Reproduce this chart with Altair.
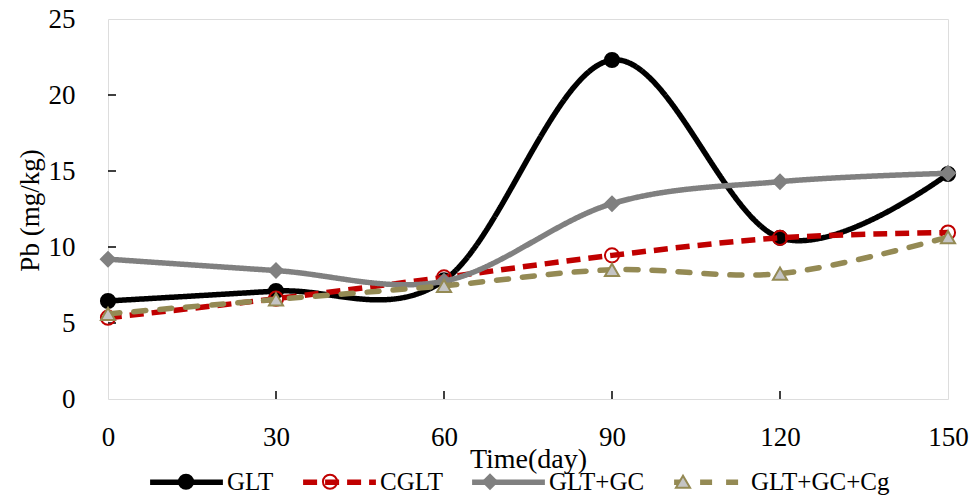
import altair as alt
import pandas as pd

# ---- data ----
days = [0, 30, 60, 90, 120, 150]
series_names = ["GLT", "CGLT", "GLT+GC", "GLT+GC+Cg"]
glt = [6.45, 7.1, 7.8, 22.3, 10.6, 14.8]
cglt = [5.35, 6.6, 8.0, 9.45, 10.6, 10.95]
glt_gc = [9.2, 8.45, 7.75, 12.85, 14.3, 14.85]
glt_gc_cg = [5.6, 6.55, 7.45, 8.5, 8.25, 10.65]
y_ticks = [0, 5, 10, 15, 20, 25]
x_ticks = [0, 30, 60, 90, 120, 150]

values = {"GLT": glt, "CGLT": cglt, "GLT+GC": glt_gc, "GLT+GC+Cg": glt_gc_cg}
# marker legend uses a keyed copy of the names so it stays a separate legend
marker_keys = [s + "#" for s in series_names]
rows = []
for s, k in zip(series_names, marker_keys):
    for d, v in zip(days, values[s]):
        rows.append({"day": d, "value": v, "series": s, "s2": k})
df = pd.DataFrame(rows)

# ---- styles ----
FONT = "Liberation Serif"
colors = ["#000000", "#C00000", "#808080", "#948A54"]
dashes = [[1, 0], [14, 8], [1, 0], [12, 14]]
caps = ["butt", "butt", "butt", "round"]
shapes = ["circle", "circle", "diamond", "triangle-up"]
fills = ["#000000", "transparent", "#808080", "#c4c4c4"]
strokes = ["#000000", "#C00000", "#808080", "#948A54"]
LW = 5.5
MSIZE = 200

W, H = 840, 380

x_scale = alt.Scale(domain=[0, 150], nice=False, zero=False)
y_scale = alt.Scale(domain=[0, 25], nice=False)

x_axis = alt.Axis(values=x_ticks, title="Time(day)", grid=False, domain=False,
                  ticks=False, tickSize=0, labelPadding=25, labelFont=FONT,
                  labelFontSize=27, labelColor="black", titleFont=FONT,
                  titleFontSize=28, titleFontWeight="normal", titleColor="black",
                  titleY=68, titleBaseline="alphabetic", labelFlush=False)
y_axis = alt.Axis(values=y_ticks, title="Pb (mg/kg)", grid=False, domain=False,
                  ticks=False, tickSize=0, labelPadding=33, labelFont=FONT,
                  labelFontSize=27, labelColor="black", titleFont=FONT,
                  titleFontSize=27, titleFontWeight="normal", titleColor="black",
                  titleAngle=270, titleX=-70, titleY=191, titleAlign="center",
                  titleBaseline="alphabetic", labelFlush=False)

LEG_X, LEG_Y = 39, 450
COLPAD = 18
line_legend = alt.Legend(orient="none", legendX=LEG_X, legendY=LEG_Y - 26.5,
                         direction="horizontal",
                         title=None, symbolType="stroke", symbolSize=5300,
                         symbolStrokeWidth=LW, labelFont=FONT, labelFontSize=25,
                         labelColor="black", labelOffset=1, columnPadding=COLPAD,
                         padding=0, symbolLimit=0)
pt_legend = alt.Legend(orient="none", legendX=LEG_X, legendY=LEG_Y, direction="horizontal",
                       title=None, symbolSize=MSIZE, symbolStrokeWidth=2,
                       labelFont=FONT, labelFontSize=25, labelColor="black",
                       labelOpacity=0, labelOffset=27.5, symbolOffset=26.5,
                       labelExpr="slice(datum.label, 0, -1)",
                       columnPadding=COLPAD, padding=0, symbolLimit=0)

color_scale = alt.Scale(domain=series_names, range=colors)
dash_scale = alt.Scale(domain=series_names, range=dashes)
shape_scale = alt.Scale(domain=marker_keys, range=shapes)
fill_scale = alt.Scale(domain=marker_keys, range=fills)
stroke_scale = alt.Scale(domain=marker_keys, range=strokes)

base = alt.Chart(df)
layers = []
for i, s in enumerate(series_names):
    line = base.transform_filter(alt.datum.series == s).mark_line(
        interpolate="cardinal", tension=0, strokeWidth=LW, strokeCap=caps[i]
    ).encode(
        x=alt.X("day:Q", scale=x_scale, axis=x_axis),
        y=alt.Y("value:Q", scale=y_scale, axis=y_axis),
        color=alt.Color("series:N", scale=color_scale, legend=line_legend),
        strokeDash=alt.StrokeDash("series:N", scale=dash_scale, legend=line_legend),
    )
    pts = base.transform_filter(alt.datum.series == s).mark_point(
        filled=True, size=MSIZE, strokeWidth=2, opacity=1
    ).encode(
        x=alt.X("day:Q", scale=x_scale, axis=x_axis),
        y=alt.Y("value:Q", scale=y_scale, axis=y_axis),
        shape=alt.Shape("s2:N", scale=shape_scale, legend=pt_legend),
        fill=alt.Fill("s2:N", scale=fill_scale, legend=pt_legend),
        stroke=alt.Stroke("s2:N", scale=stroke_scale, legend=pt_legend),
    )
    layers += [line, pts]

# inward tick marks
ytick_df = pd.DataFrame({"t": y_ticks[1:-1]})
xtick_df = pd.DataFrame({"t": x_ticks[1:-1]})
ytk = alt.Chart(ytick_df).mark_rule(color="black", strokeWidth=1.5).encode(
    y=alt.Y("t:Q", scale=y_scale, axis=y_axis), x=alt.value(0), x2=alt.value(8))
xtk = alt.Chart(xtick_df).mark_rule(color="black", strokeWidth=1.5).encode(
    x=alt.X("t:Q", scale=x_scale, axis=x_axis), y=alt.value(H), y2=alt.value(H - 8))

chart = alt.layer(ytk, xtk, *layers).properties(
    width=W, height=H,
    padding={"left": 108, "top": 19, "right": 30, "bottom": 98},
    autosize=alt.AutoSizeParams(type="none"),
).configure_view(stroke="black", strokeWidth=2, fill="white").configure(
    background="white"
)

chart.save("out.html", embed_options={"renderer": "svg", "actions": False})
